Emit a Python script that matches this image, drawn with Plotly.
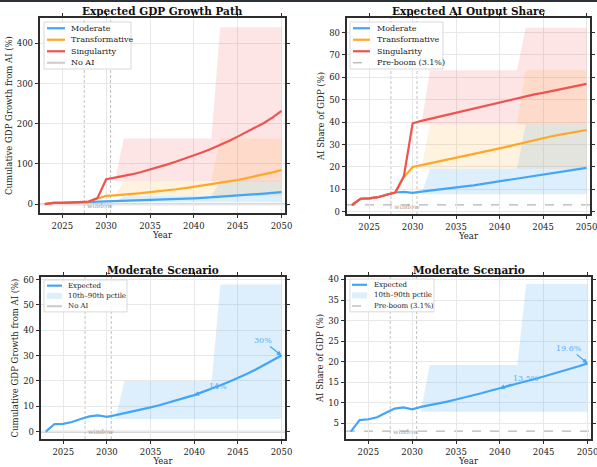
import plotly.graph_objects as go

# ---------------- data ----------------
years = list(range(2023, 2051))

gdp_moderate = [0, 3.0, 3.1, 3.8, 5.0, 6.0, 6.4, 5.8, 6.5, 7.2, 8.0, 8.8, 9.6, 10.4,
                11.3, 12.3, 13.4, 14.4, 15.6, 16.9, 18.3, 19.7, 21.1, 22.7, 24.4, 26.2, 28.1, 30.0]
gdp_transformative = [0, 3.0, 3.1, 3.8, 5.0, 6.0, 14.0, 20.5, 22.0, 23.5, 25.5, 27.5, 30.0, 32.0,
                      34.5, 37.0, 40.0, 43.0, 46.0, 49.5, 53.0, 56.5, 60.0, 64.5, 69.0, 74.0, 79.0, 85.0]
gdp_singularity = [0, 3.0, 3.1, 3.8, 5.0, 6.5, 15.0, 62.0, 66.0, 70.0, 74.5, 80.0, 86.0, 92.0,
                   99.0, 106.0, 113.0, 121.0, 129.0, 138.0, 147.0, 157.0, 168.0, 179.0, 190.0, 202.0, 216.0, 232.0]

share_moderate = [3.0, 5.8, 6.0, 6.5, 7.6, 8.6, 8.9, 8.4, 9.0, 9.4, 9.8, 10.3, 10.8, 11.3,
                  11.8, 12.4, 13.0, 13.5, 14.1, 14.7, 15.2, 15.8, 16.4, 17.0, 17.6, 18.3, 18.9, 19.6]
share_transformative = [3.0, 5.8, 6.0, 6.5, 7.6, 8.6, 15.5, 20.0, 20.8, 21.6, 22.5, 23.3, 24.2, 25.0,
                        25.8, 26.7, 27.5, 28.3, 29.2, 30.1, 31.0, 32.0, 33.0, 33.7, 34.4, 35.1, 35.8, 36.5]
share_singularity = [3.0, 5.8, 6.0, 6.5, 7.6, 8.6, 16.0, 39.5, 40.6, 41.5, 42.4, 43.3, 44.2, 45.2,
                     46.2, 47.1, 48.1, 49.0, 49.9, 50.8, 51.6, 52.4, 53.1, 53.9, 54.7, 55.5, 56.3, 57.1]

# 10th-90th percentile bands (knots)
band_years = [2031, 2032, 2042, 2043, 2050]
gdp_mod_lo = [5, 5, 5, 5, 5]
gdp_mod_hi = [5, 20, 20, 58, 58]
gdp_tra_lo = [20, 20, 20, 20, 20]
gdp_tra_hi = [20, 57, 57, 163, 163]
gdp_sin_lo = [57, 57, 57, 57, 57]
gdp_sin_hi = [57, 163, 163, 440, 440]

sh_mod_lo = [7.8, 7.8, 7.8, 7.8, 7.8]
sh_mod_hi = [7.8, 19.2, 19.2, 38.9, 38.9]
sh_tra_lo = [19.2, 19.2, 19.2, 19.2, 19.2]
sh_tra_hi = [19.2, 38.9, 38.9, 63.2, 63.2]
sh_sin_lo = [38.9, 38.9, 38.9, 38.9, 38.9]
sh_sin_hi = [38.9, 63.2, 63.2, 82.2, 82.2]

no_ai_level = 0
pre_boom_level = 3.1
window_years = [2027.5, 2030.5]
x_ticks = [2025, 2030, 2035, 2040, 2045, 2050]

# ---------------- style ----------------
W, H = 597, 467
BLUE = '#42A5F5'
ORANGE = '#FFA726'
RED = '#EF5350'
FILL = {BLUE: 'rgba(66,165,245,0.18)', ORANGE: 'rgba(255,167,38,0.15)', RED: 'rgba(239,83,80,0.15)'}
FONT = 'DejaVu Serif'
FRAME = 'rgb(45,45,45)'
GRID = 'rgb(232,232,232)'


def fx(p):
    return p / W


def fy(p):
    return 1 - p / H


panels = {
    1: dict(x=(40, 285), y=(18, 213), yr=[-22, 463], yt=[0, 100, 200, 300, 400],
            ytitle='Cumulative GDP Growth from AI (%)', title='Expected GDP Growth Path'),
    2: dict(x=(347, 590), y=(18, 214), yr=[-1.0, 86.5], yt=list(range(0, 81, 10)),
            ytitle='AI Share of GDP (%)', title='Expected AI Output Share'),
    3: dict(x=(41, 285), y=(277, 439), yr=[-2.9, 61], yt=list(range(0, 61, 10)),
            ytitle='Cumulative GDP Growth from AI (%)', title='Moderate Scenario'),
    4: dict(x=(346, 591), y=(277, 439), yr=[1.2, 40.6], yt=list(range(5, 41, 5)),
            ytitle='AI Share of GDP (%)', title='Moderate Scenario'),
}

fig = go.Figure()
layout = dict(width=W, height=H, margin=dict(l=0, r=0, t=0, b=0, autoexpand=False),
              paper_bgcolor='white', plot_bgcolor='white', showlegend=False,
              font=dict(family=FONT, size=9, color='#222'))
shapes = []
annotations = []

for i, p in panels.items():
    s = '' if i == 1 else str(i)
    layout['xaxis' + s] = dict(
        domain=[fx(p['x'][0]), fx(p['x'][1])], anchor='y' + s, range=[2022.45, 2050.4],
        tickvals=x_ticks, showgrid=True, gridcolor=GRID, gridwidth=0.8, zeroline=False,
        showline=True, mirror='all', linecolor=FRAME, linewidth=1.6,
        ticks='outside', ticklen=3.5, tickwidth=1, tickcolor=FRAME,
        ticklabeloverflow='allow', tickfont=dict(size=8.5, family=FONT),
        title=dict(text='Year', font=dict(size=8.5, family=FONT), standoff=2))
    layout['yaxis' + s] = dict(
        domain=[fy(p['y'][1]), fy(p['y'][0])], anchor='x' + s, range=p['yr'],
        tickvals=p['yt'], showgrid=True, gridcolor=GRID, gridwidth=0.8, zeroline=False,
        showline=True, mirror='all', linecolor=FRAME, linewidth=1.6,
        ticks='outside', ticklen=3.5, tickwidth=1, tickcolor=FRAME,
        ticklabeloverflow='allow', tickfont=dict(size=8.5, family=FONT),
        title=dict(text=p['ytitle'], font=dict(size=8.5, family=FONT), standoff=3))
    annotations.append(dict(text='<b>' + p['title'] + '</b>', xref='paper', yref='paper',
                            x=fx((p['x'][0] + p['x'][1]) / 2), y=fy(p['y'][0] - 7),
                            xanchor='center', yanchor='middle', showarrow=False,
                            font=dict(size=10.5, family=FONT, color='#111')))
    # window lines
    for wy in window_years:
        shapes.append(dict(type='line', xref='x' + s, yref='y' + s + ' domain', x0=wy, x1=wy,
                           y0=0, y1=1, line=dict(color='#a8a8a8', width=0.7, dash='3px,2px'),
                           layer='below'))
    annotations.append(dict(text='window', xref='x' + s, yref='y' + s + ' domain',
                            x=window_years[0] + 0.1, y=0.005, xanchor='left', yanchor='bottom',
                            showarrow=False, font=dict(size=6.5, family=FONT, color='#a0a0a0')))
    # reference level
    if i in (1, 3):
        shapes.append(dict(type='line', xref='x' + s + ' domain', yref='y' + s, x0=0, x1=1,
                           y0=no_ai_level, y1=no_ai_level,
                           line=dict(color='rgba(180,180,180,0.7)', width=2), layer='below'))
    else:
        shapes.append(dict(type='line', xref='x' + s + ' domain', yref='y' + s, x0=0, x1=1,
                           y0=pre_boom_level, y1=pre_boom_level,
                           line=dict(color='#b5b5b5', width=1.3, dash='dash'), layer='below'))


def band(ax, lo, hi, color):
    s = '' if ax == 1 else str(ax)
    fig.add_trace(go.Scatter(x=band_years, y=lo, mode='lines', line=dict(width=0),
                             xaxis='x' + s, yaxis='y' + s, hoverinfo='skip'))
    fig.add_trace(go.Scatter(x=band_years, y=hi, mode='lines', line=dict(width=0),
                             fill='tonexty', fillcolor=FILL[color],
                             xaxis='x' + s, yaxis='y' + s, hoverinfo='skip'))


def line(ax, y, color):
    s = '' if ax == 1 else str(ax)
    fig.add_trace(go.Scatter(x=years, y=y, mode='lines', line=dict(color=color, width=2.2),
                             xaxis='x' + s, yaxis='y' + s))


band(1, gdp_mod_lo, gdp_mod_hi, BLUE)
band(1, gdp_tra_lo, gdp_tra_hi, ORANGE)
band(1, gdp_sin_lo, gdp_sin_hi, RED)
line(1, gdp_moderate, BLUE)
line(1, gdp_transformative, ORANGE)
line(1, gdp_singularity, RED)

band(2, sh_mod_lo, sh_mod_hi, BLUE)
band(2, sh_tra_lo, sh_tra_hi, ORANGE)
band(2, sh_sin_lo, sh_sin_hi, RED)
line(2, share_moderate, BLUE)
line(2, share_transformative, ORANGE)
line(2, share_singularity, RED)

band(3, gdp_mod_lo, gdp_mod_hi, BLUE)
line(3, gdp_moderate, BLUE)
band(4, sh_mod_lo, sh_mod_hi, BLUE)
line(4, share_moderate, BLUE)

# callouts on moderate scenario panels
callouts = [
    (3, 2040, gdp_moderate, '{:.0f}%', 24, -9),
    (3, 2050, gdp_moderate, '{:.0f}%', -19, -15),
    (4, 2040, share_moderate, '{:.1f}%', 26, -10),
    (4, 2050, share_moderate, '{:.1f}%', -18, -15),
]
for ax, yr, series, fmt, dx, dy in callouts:
    s = '' if ax == 1 else str(ax)
    v = series[years.index(yr)]
    annotations.append(dict(text=fmt.format(v), xref='x' + s, yref='y' + s, x=yr, y=v,
                            ax=dx, ay=dy, showarrow=True, arrowhead=2, arrowsize=0.8,
                            arrowwidth=1.2, arrowcolor=BLUE, standoff=0,
                            font=dict(size=8, family=FONT, color='#5aaef5')))


# ---------------- legends (matplotlib-style boxes) ----------------
def legend(box, rows, row_h, sx, lx, fsize):
    x0, y0, x1 = box
    y1 = y0 + row_h * len(rows) + 1
    shapes.append(dict(type='rect', xref='paper', yref='paper', x0=fx(x0), x1=fx(x1),
                       y0=fy(y1), y1=fy(y0), fillcolor='rgba(255,255,255,0.85)',
                       line=dict(color='#cfcfcf', width=0.8), layer='above'))
    for k, (label, kind, color) in enumerate(rows):
        cy = y0 + 0.5 + row_h * (k + 0.5)
        if kind == 'fill':
            shapes.append(dict(type='rect', xref='paper', yref='paper', x0=fx(sx[0]), x1=fx(sx[1]),
                               y0=fy(cy + 3), y1=fy(cy - 3), fillcolor=color,
                               line=dict(width=0), layer='above'))
        else:
            dash = 'dash' if kind == 'dash' else 'solid'
            width = 2.2 if kind == 'line' else (1.3 if kind == 'dash' else 2)
            shapes.append(dict(type='line', xref='paper', yref='paper', x0=fx(sx[0]), x1=fx(sx[1]),
                               y0=fy(cy), y1=fy(cy), line=dict(color=color, width=width, dash=dash),
                               layer='above'))
        annotations.append(dict(text=label, xref='paper', yref='paper', x=fx(lx), y=fy(cy),
                                xanchor='left', yanchor='middle', showarrow=False,
                                font=dict(size=fsize, family=FONT, color='#222')))


legend((44, 22, 131), [('Moderate', 'line', BLUE), ('Transformative', 'line', ORANGE),
                       ('Singularity', 'line', RED), ('No AI', 'gray', 'rgba(180,180,180,0.7)')],
       11.5, (47, 65), 69, 8)
legend((350, 22, 443), [('Moderate', 'line', BLUE), ('Transformative', 'line', ORANGE),
                        ('Singularity', 'line', RED), ('Pre-boom (3.1%)', 'dash', '#b5b5b5')],
       11.5, (353, 370), 374.5, 8)
legend((44, 280, 127), [('Expected', 'line', BLUE), ('10th\u201390th pctile', 'fill', FILL[BLUE]),
                        ('No AI', 'gray', 'rgba(180,180,180,0.7)')],
       10.3, (47, 62), 66, 7)
legend((350, 279, 434), [('Expected', 'line', BLUE), ('10th\u201390th pctile', 'fill', FILL[BLUE]),
                         ('Pre-boom (3.1%)', 'dash', '#b5b5b5')],
       10.6, (352, 367), 372, 7)

# thin dark strip at very top of the page
shapes.append(dict(type='rect', xref='paper', yref='paper', x0=0, x1=1, y0=fy(2), y1=1,
                   fillcolor='rgb(45,50,56)', line=dict(width=0), layer='above'))

layout['shapes'] = shapes
layout['annotations'] = annotations
fig.update_layout(**layout)
fig.write_html('out.html', config={'displayModeBar': False},
               post_script="document.body.style.margin='0';document.body.style.overflow='hidden';")
